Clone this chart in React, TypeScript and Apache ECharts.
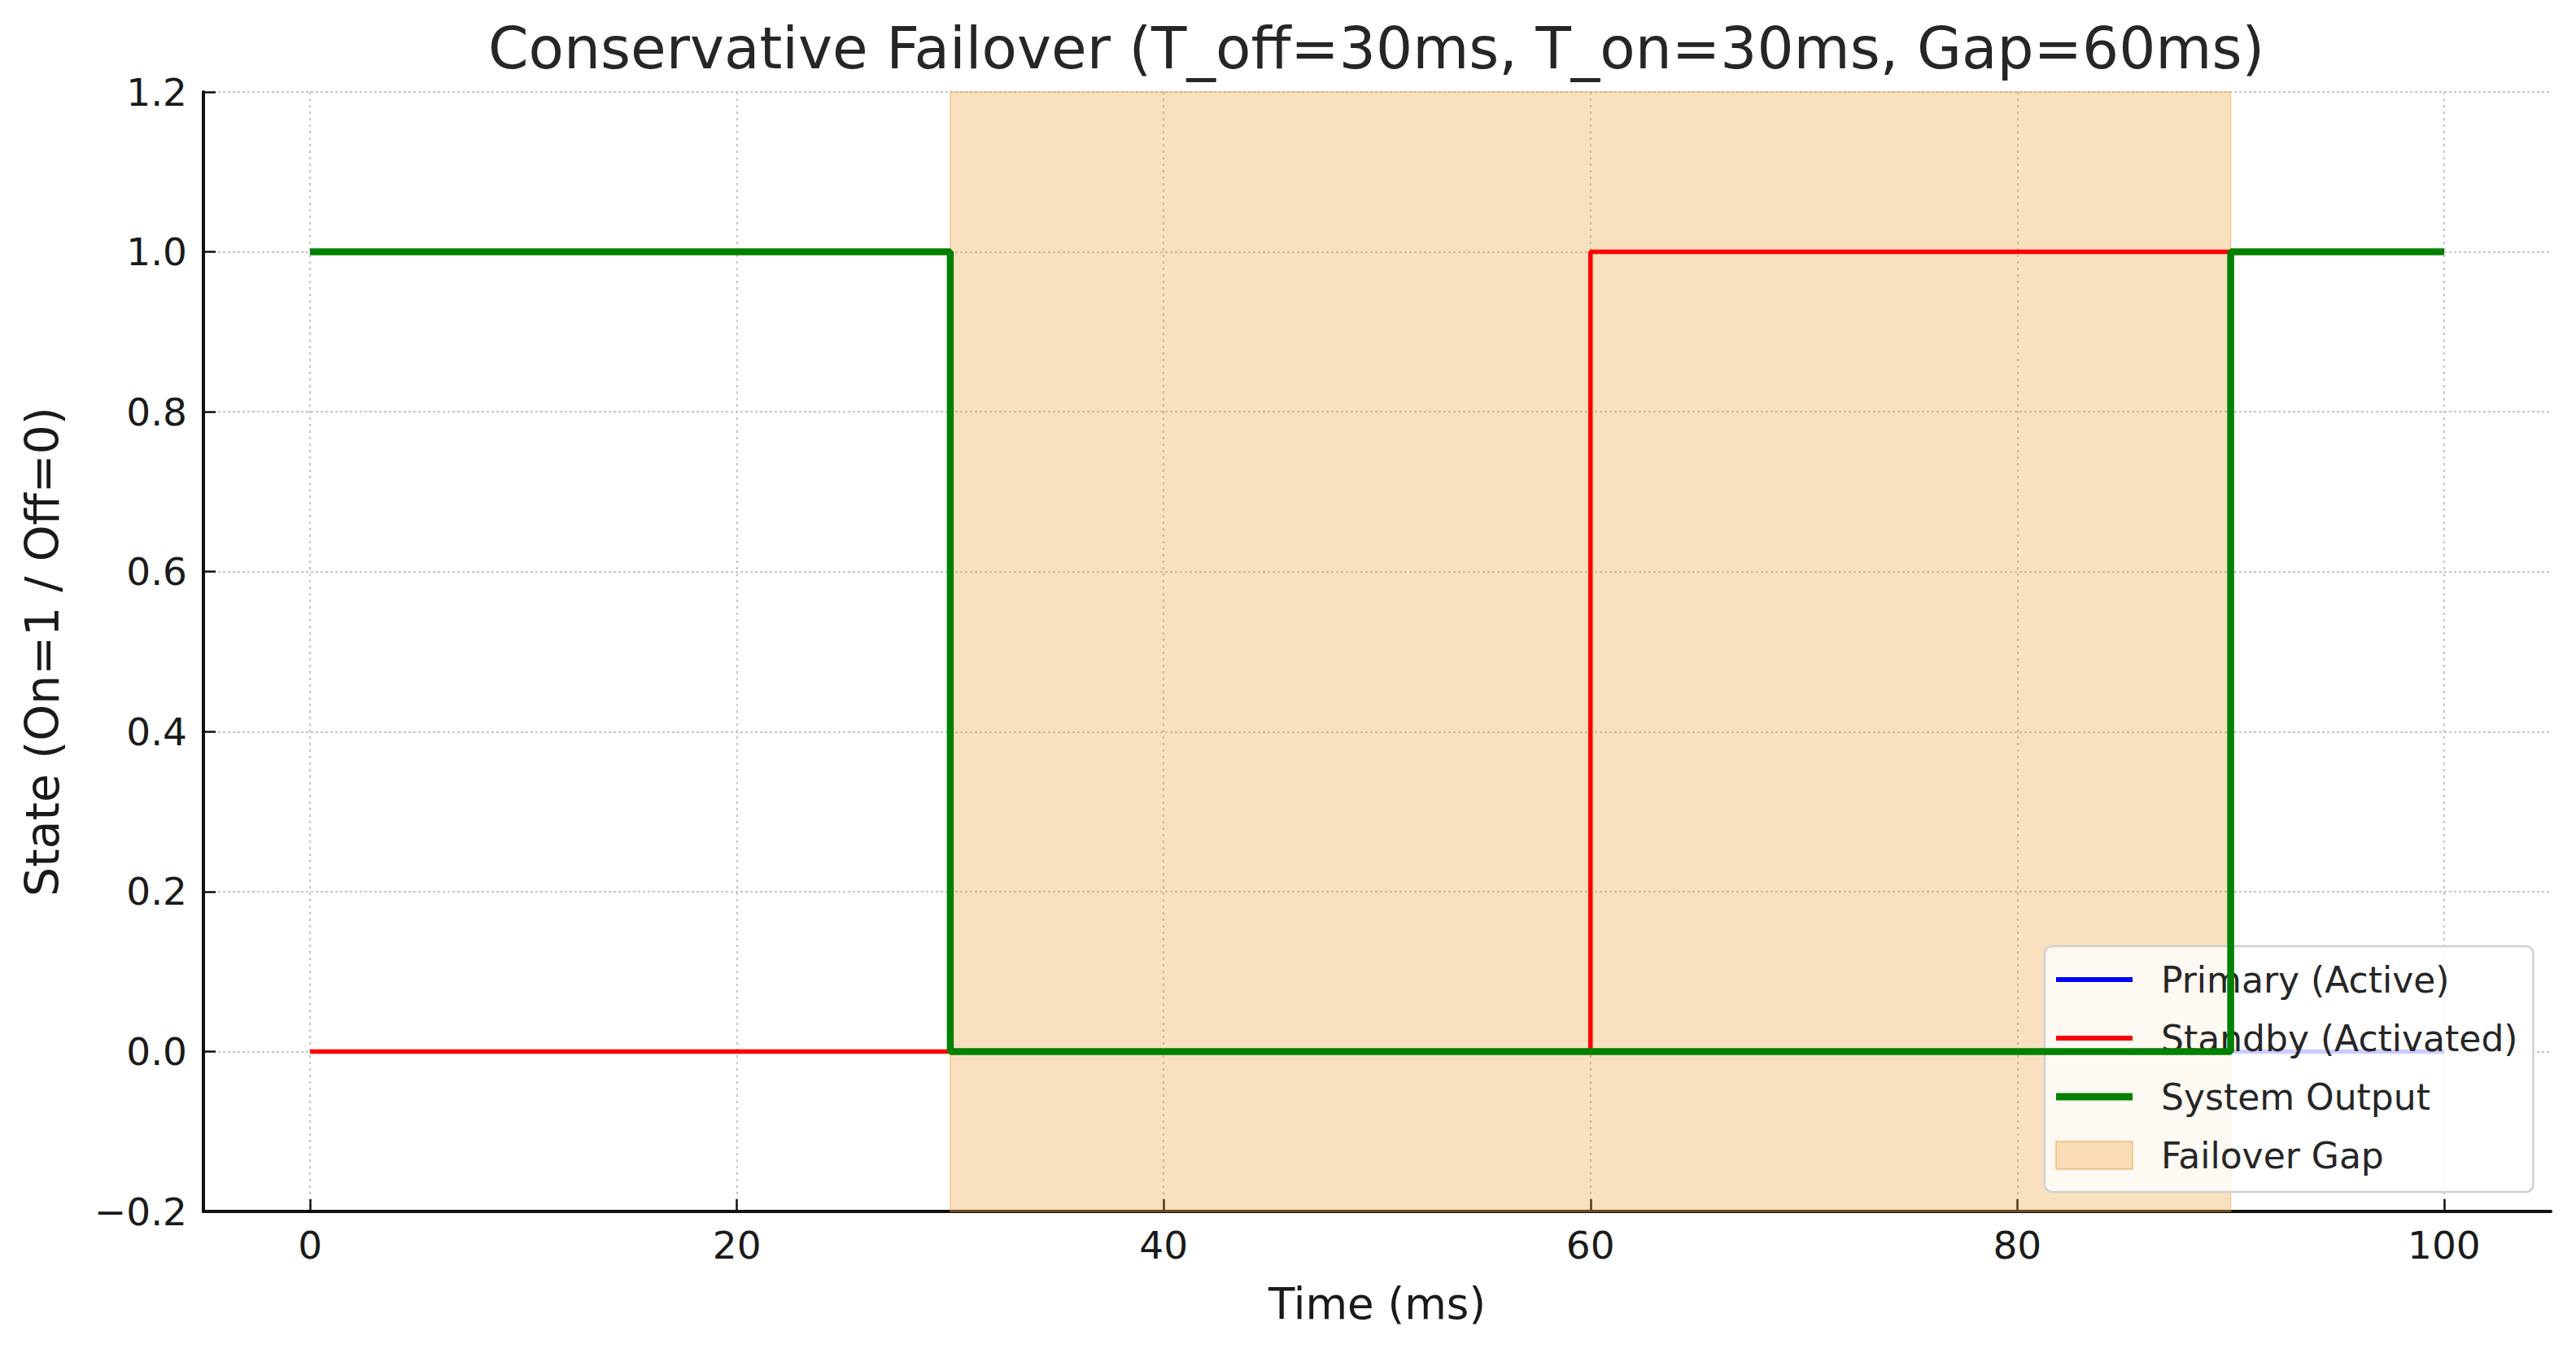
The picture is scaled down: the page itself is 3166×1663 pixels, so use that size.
import React, { useEffect, useRef } from "react";
import * as echarts from "echarts";

const timePoints: number[] = [0, 30, 60, 90, 100];
const primaryActive: number[] = [1, 0, 0, 0, 0];
const standbyActivated: number[] = [0, 0, 1, 1, 1];
const systemOutput: number[] = [1, 0, 0, 1, 1];
const failoverGap: number[] = [30, 90];
const xTicks: number[] = [0, 20, 40, 60, 80, 100];

const titleText = "Conservative Failover (T_off=30ms, T_on=30ms, Gap=60ms)";
const FONT = "DejaVu Sans";

const pairs = (ys: number[]) => timePoints.map((t, i) => [t, ys[i]]);

export default function App() {
  const ref = useRef<HTMLDivElement>(null);
  useEffect(() => {
    if (!ref.current) return;
    const chart = echarts.init(ref.current, null, { renderer: "svg" });
    const gapColor = "rgba(235,155,48,0.3)";
    const option: any = {
      animation: false,
      backgroundColor: "#ffffff",
      textStyle: { fontFamily: FONT },
      title: {
        text: titleText,
        left: 600,
        top: 24,
        padding: 0,
        textStyle: { fontFamily: FONT, fontSize: 71, lineHeight: 71, fontWeight: "normal", color: "#262626" },
      },
      grid: { left: 250, right: 31, top: 113, bottom: 174, containLabel: false },
      legend: {
        orient: "vertical",
        left: 2513,
        top: 1163,
        padding: [19, 19, 23, 13],
        itemWidth: 94,
        itemHeight: 34,
        itemGap: 28,
        backgroundColor: "rgba(255,255,255,0.8)",
        borderColor: "#d0d0d0",
        borderWidth: 2.5,
        borderRadius: 9,
        textStyle: { fontFamily: FONT, fontSize: 44, lineHeight: 44, color: "#262626", padding: [0, 0, 0, 30] },
        data: [
          { name: "Primary (Active)", icon: "path://M0 0H94V6H0Z", itemStyle: { color: "#0000ff", borderWidth: 0 } },
          { name: "Standby (Activated)", icon: "path://M0 0H94V6H0Z", itemStyle: { color: "#ff0000", borderWidth: 0 } },
          { name: "System Output", icon: "path://M0 0H94V9H0Z", itemStyle: { color: "#008000", borderWidth: 0 } },
          {
            name: "Failover Gap",
            icon: "rect",
            itemStyle: { color: gapColor, borderColor: "rgba(235,155,48,0.45)", borderWidth: 2 },
          },
        ],
      },
      xAxis: {
        type: "value",
        min: -5,
        max: 105,
        name: "Time (ms)",
        nameLocation: "middle",
        nameGap: 87,
        nameTextStyle: { fontFamily: FONT, fontSize: 53, color: "#1a1a1a" },
        axisLine: { show: true, onZero: false, lineStyle: { color: "#111", width: 4 } },
        axisTick: { show: true, inside: true, length: 15, customValues: xTicks, lineStyle: { color: "#111", width: 2.5 } },
        axisLabel: { show: true, margin: 18, customValues: xTicks, fontFamily: FONT, fontSize: 47, color: "#1a1a1a" },
        splitLine: { show: true, lineStyle: { color: "#c4c4c4", width: 2, type: [3, 5] } },
      },
      yAxis: {
        type: "value",
        min: -0.2,
        max: 1.2,
        interval: 0.2,
        name: "State (On=1 / Off=0)",
        nameLocation: "middle",
        nameGap: 170,
        nameRotate: 90,
        nameTextStyle: { fontFamily: FONT, fontSize: 57, color: "#1a1a1a" },
        axisLine: { show: true, onZero: false, lineStyle: { color: "#111", width: 4 } },
        axisTick: { show: true, inside: true, length: 15, lineStyle: { color: "#111", width: 2.5 } },
        axisLabel: {
          show: true,
          margin: 20,
          fontFamily: FONT,
          fontSize: 47,
          color: "#1a1a1a",
          formatter: (v: number) => (v < -1e-9 ? "\u2212" : "") + Math.abs(v).toFixed(1),
        },
        splitLine: { show: true, lineStyle: { color: "#c4c4c4", width: 2, type: [3, 3] } },
      },
      series: [
        {
          name: "Failover Gap",
          type: "line",
          data: [],
          symbol: "none",
          itemStyle: { color: gapColor },
          lineStyle: { width: 0 },
          markArea: {
            silent: true,
            itemStyle: { color: gapColor, borderColor: "rgba(235,155,48,0.35)", borderWidth: 2 },
            data: [[{ xAxis: failoverGap[0] }, { xAxis: failoverGap[1] }]],
          },
          z: 1,
        },
        {
          name: "Primary (Active)",
          type: "line",
          step: "end",
          data: pairs(primaryActive),
          symbol: "none",
          itemStyle: { color: "#0000ff" },
          lineStyle: { color: "#0000ff", width: 5.5, cap: "butt" },
          z: 3,
        },
        {
          name: "Standby (Activated)",
          type: "line",
          step: "end",
          data: pairs(standbyActivated),
          symbol: "none",
          itemStyle: { color: "#ff0000" },
          lineStyle: { color: "#ff0000", width: 5.5, cap: "butt" },
          z: 4,
        },
        {
          name: "System Output",
          type: "line",
          step: "end",
          data: pairs(systemOutput),
          symbol: "none",
          itemStyle: { color: "#008000" },
          lineStyle: { color: "#008000", width: 8.5, cap: "butt" },
          z: 5,
        },
      ],
    };
    chart.setOption(option);
    return () => chart.dispose();
  }, []);
  return (
    <div
      ref={ref}
      style={{ position: "fixed", left: 0, top: 0, width: 3166, height: 1663, background: "#fff" }}
    />
  );
}
